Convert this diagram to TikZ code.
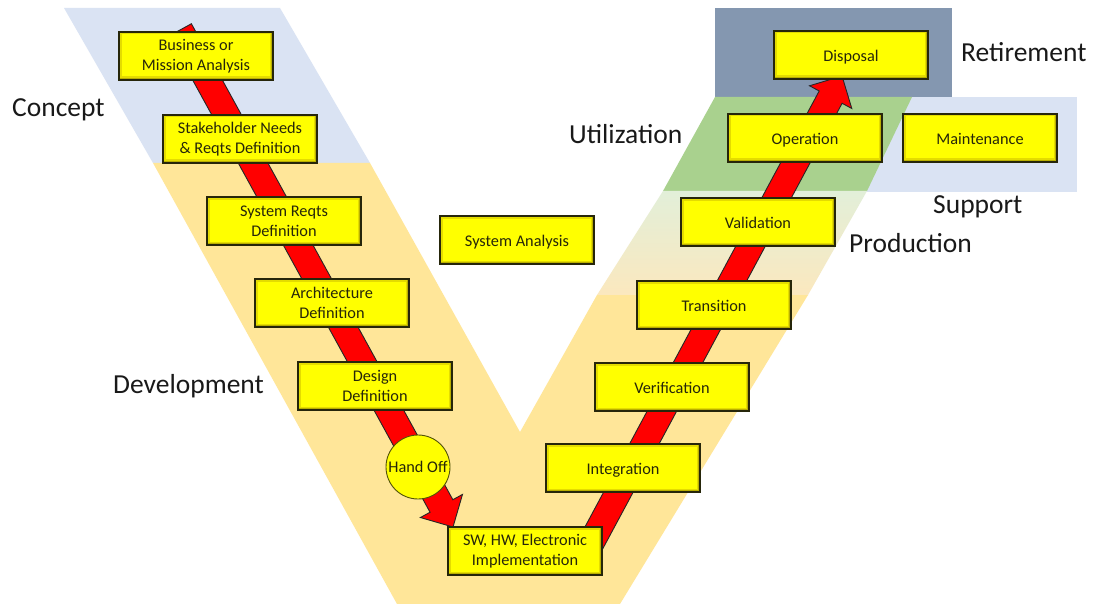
\documentclass[tikz,border=0pt]{standalone}
\usepackage{fontspec}
\setmainfont{Carlito}
\usetikzlibrary{calc}

\definecolor{conceptblue}{RGB}{218,227,243}
\definecolor{devorange}{RGB}{255,230,153}
\definecolor{utilgreen}{RGB}{169,209,142}
\definecolor{retireblue}{RGB}{132,151,176}
\definecolor{prodtop}{RGB}{226,239,217}
\definecolor{prodbottom}{RGB}{251,232,190}
\definecolor{boxyellow}{RGB}{255,255,0}
\definecolor{boxedge}{RGB}{38,38,10}
\definecolor{bevelouter}{RGB}{185,175,0}
\definecolor{bevelmid}{RGB}{228,220,0}
\definecolor{bandred}{RGB}{255,0,0}
\definecolor{labelgray}{RGB}{25,25,25}

\tikzset{
  stagebox/.style={draw=boxedge, line width=1.1pt, fill=boxyellow,
    minimum width=154pt, minimum height=48pt, inner sep=2pt, align=center,
    text=boxedge, font=\fontsize{16.3}{20}\selectfont,
    path picture={
      \fill[bevelouter] (path picture bounding box.south west) rectangle (path picture bounding box.north east);
      \fill[bevelmid] ([shift={(1.2pt,-1.2pt)}]path picture bounding box.north west) rectangle ([shift={(-2pt,2pt)}]path picture bounding box.south east);
      \fill[boxyellow] ([shift={(2.5pt,-2.5pt)}]path picture bounding box.north west) rectangle ([shift={(-3.5pt,3.5pt)}]path picture bounding box.south east);
    }},
  oneline/.style={text height=16pt, text depth=3.5pt},
  handoff/.style={circle, draw=boxedge!80!yellow, line width=0.9pt, fill=boxyellow,
    minimum size=64pt, inner sep=0pt, text=boxedge, font=\fontsize{16.3}{20}\selectfont},
  phaselabel/.style={anchor=base west, inner sep=0pt, text=labelgray,
    font=\fontsize{27.5}{33}\selectfont},
  arrowband/.style={fill=bandred, draw=black!85, line width=0.9pt, line join=miter},
}

% wide red band from (<prefix>s) to (<prefix>e) with a broad head
\newcommand{\bandarrow}[2]{%
  \coordinate (#1hd) at ($(#1e)!#2!(#1s)$);
  \draw[arrowband] ($(#1s)!13pt!90:(#1e)$) -- ($(#1hd)!13pt!90:(#1e)$)
    -- ($(#1hd)!24pt!90:(#1e)$) -- (#1e) -- ($(#1hd)!24pt!-90:(#1e)$)
    -- ($(#1hd)!13pt!-90:(#1e)$) -- ($(#1s)!13pt!-90:(#1e)$) -- cycle;}

\begin{document}
\begin{tikzpicture}[x=1pt, y=-1pt]
  \fill[white] (0,0) rectangle (1094,604);
  \useasboundingbox (0,0) rectangle (1094,604);

  % phase regions
  \fill[conceptblue] (64,8) -- (280,8) -- (370,163) -- (153,163) -- cycle;
  \fill[conceptblue] (860,97) rectangle (1077,192);
  \fill[retireblue] (715,8) rectangle (952,97);
  \fill[utilgreen] (715,97) -- (912,97) -- (867,191) -- (663,191) -- cycle;
  \shade[top color=prodtop, bottom color=prodbottom]
    (663,191) -- (867,191) -- (808,295) -- (597,295) -- cycle;
  \fill[devorange] (153,163) -- (370,163) -- (520,432) -- (597,295) -- (808,295)
    -- (620,604) -- (397,604) -- cycle;

  % phase names
  \node[phaselabel] (lconcept) at (12,117) {Concept};
  \node[phaselabel] (ldev) at (113,393) {Development};
  \node[phaselabel] (lutil) at (569,144) {Utilization};
  \node[phaselabel] (lretire) at (961,62) {Retirement};
  \node[phaselabel] (lsupport) at (933,213) {Support};
  \node[phaselabel] (lprod) at (849,252) {Production};

  % flow bands
  \coordinate (ls) at (180,30);
  \coordinate (le) at (453,527);
  \bandarrow{l}{24pt}
  \coordinate (rs) at (590,545);
  \coordinate (re) at (842,76);
  \bandarrow{r}{24pt}

  % life-cycle stages
  \node[stagebox] (bma) at (196,56) {Business or\\Mission Analysis};
  \node[stagebox] (snr) at (240,139) {Stakeholder Needs\\\& Reqts Definition};
  \node[stagebox] (srd) at (284,221) {System Reqts\\Definition};
  \node[stagebox] (arch) at (332,303) {Architecture\\Definition};
  \node[stagebox] (dd) at (375,386) {Design\\Definition};
  \node[stagebox, oneline] (sa) at (517,240) {System Analysis};
  \node[stagebox] (impl) at (525,551) {SW, HW, Electronic\\Implementation};
  \node[stagebox, oneline] (integ) at (623,468) {Integration};
  \node[stagebox, oneline] (verif) at (672,387) {Verification};
  \node[stagebox, oneline] (trans) at (714,305) {Transition};
  \node[stagebox, oneline] (valid) at (758,222) {Validation};
  \node[stagebox, oneline] (oper) at (805,138) {Operation};
  \node[stagebox, oneline] (maint) at (980,138) {Maintenance};
  \node[stagebox, oneline] (disp) at (851,55) {Disposal};

  \node[handoff] (ho) at (418,467) {Hand Off};
\end{tikzpicture}
\end{document}
